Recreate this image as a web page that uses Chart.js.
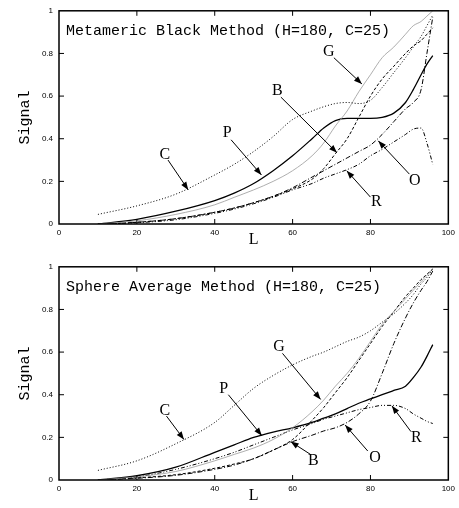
<!DOCTYPE html>
<html>
<head>
<meta charset="utf-8">
<script src="https://cdn.jsdelivr.net/npm/chart.js@4.4.0/dist/chart.umd.min.js"></script>
<style>
body { margin: 0; background: #fff; overflow: hidden; }
canvas { display: block; }
#arriba { margin-bottom: 2px; }
</style>
</head>
<body>
<canvas id="arriba" width="459" height="254"></canvas>
<canvas id="abajo" width="459" height="252"></canvas>
<script>
// Valores de L comunes a todas las curvas
const valoresL = [10, 20, 30, 40, 45, 50, 55, 60, 65, 68, 71, 74, 77, 80, 83, 86, 89, 91, 93, 94.5, 96];

// Metameric Black Method
const negroC = [0.045, 0.085, 0.14, 0.23, 0.28, 0.34, 0.41, 0.49, 0.53, 0.55, 0.565, 0.57, 0.565, 0.58, 0.64, 0.71, 0.78, 0.83, 0.88, 0.93, 0.98];
const negroP = [0, 0.022, 0.06, 0.11, 0.145, 0.19, 0.25, 0.32, 0.4, 0.45, 0.485, 0.495, 0.495, 0.495, 0.5, 0.52, 0.57, 0.63, 0.7, 0.75, 0.79];
const negroG = [0, 0.015, 0.045, 0.09, 0.125, 0.16, 0.2, 0.25, 0.32, 0.38, 0.46, 0.53, 0.62, 0.7, 0.78, 0.83, 0.89, 0.93, 0.95, 0.975, 1.0];
const negroB = [0, 0.008, 0.025, 0.055, 0.075, 0.1, 0.13, 0.165, 0.21, 0.26, 0.33, 0.4, 0.5, 0.6, 0.68, 0.74, 0.8, 0.835, 0.86, 0.89, 0.92];
const negroO = [0, 0.008, 0.025, 0.055, 0.075, 0.1, 0.13, 0.17, 0.22, 0.25, 0.28, 0.31, 0.34, 0.37, 0.42, 0.48, 0.54, 0.57, 0.63, 0.8, 0.97];
const negroR = [0, 0.006, 0.02, 0.05, 0.07, 0.095, 0.125, 0.16, 0.19, 0.215, 0.235, 0.255, 0.28, 0.32, 0.35, 0.385, 0.42, 0.445, 0.45, 0.38, 0.28];

// Sphere Average Method
const esferaC = [0.045, 0.09, 0.17, 0.27, 0.35, 0.43, 0.49, 0.54, 0.58, 0.6, 0.625, 0.65, 0.67, 0.7, 0.74, 0.78, 0.83, 0.87, 0.92, 0.95, 0.99];
const esferaP = [0, 0.02, 0.06, 0.13, 0.165, 0.2, 0.225, 0.245, 0.27, 0.29, 0.31, 0.335, 0.36, 0.38, 0.4, 0.42, 0.44, 0.48, 0.53, 0.58, 0.635];
const esferaG = [0, 0.015, 0.04, 0.09, 0.12, 0.15, 0.19, 0.245, 0.32, 0.375, 0.44, 0.5, 0.57, 0.65, 0.73, 0.79, 0.85, 0.89, 0.93, 0.96, 0.99];
const esferaB = [0, 0.01, 0.025, 0.055, 0.075, 0.1, 0.14, 0.19, 0.28, 0.34, 0.41, 0.48, 0.56, 0.64, 0.72, 0.79, 0.86, 0.9, 0.94, 0.965, 0.99];
const esferaO = [0, 0.008, 0.022, 0.05, 0.07, 0.1, 0.14, 0.18, 0.21, 0.23, 0.245, 0.27, 0.31, 0.37, 0.5, 0.64, 0.76, 0.83, 0.89, 0.93, 0.98];
const esferaR = [0, 0.015, 0.05, 0.1, 0.13, 0.165, 0.2, 0.235, 0.265, 0.285, 0.3, 0.315, 0.33, 0.34, 0.35, 0.35, 0.335, 0.31, 0.29, 0.275, 0.265];

// Etiquetas con flecha: letra, posición del texto, inicio y punta de la flecha (en L, Signal)
const negroLetras = ['C', 'P', 'B', 'G', 'O', 'R'];
const negroTexto = [[27.2, 0.326], [43.2, 0.426], [56.1, 0.626], [69.3, 0.806], [91.4, 0.203], [81.5, 0.103]];
const negroDesde = [[28, 0.30], [44.2, 0.395], [57, 0.595], [70.6, 0.78], [90, 0.234], [80, 0.126]];
const negroPunta = [[33.2, 0.16], [52, 0.23], [71.4, 0.334], [77.8, 0.657], [82, 0.39], [73.9, 0.25]];

const esferaLetras = ['C', 'P', 'G', 'B', 'O', 'R'];
const esferaTexto = [[27.2, 0.326], [42.3, 0.428], [56.5, 0.624], [65.3, 0.09], [81.2, 0.105], [91.8, 0.2]];
const esferaDesde = [[27.6, 0.30], [43.5, 0.40], [57.4, 0.594], [64.6, 0.12], [79.3, 0.136], [90.4, 0.227]];
const esferaPunta = [[32.1, 0.19], [52.1, 0.208], [67.2, 0.378], [59.5, 0.18], [73.5, 0.258], [85.5, 0.348]];

const ticksX = [0, 20, 40, 60, 80, 100];
const ticksY = [0, 0.2, 0.4, 0.6, 0.8, 1];

// Plugin: marco, marcas hacia dentro, título y flechas
const marcas = {
    id: 'marcas',
    afterDraw(chart, args, opts) {
        const ctx = chart.ctx;
        const a = chart.chartArea;
        const sx = chart.scales.x;
        const sy = chart.scales.y;
        ctx.save();
        ctx.strokeStyle = '#000';
        ctx.lineWidth = 1;
        ctx.beginPath();
        ticksX.slice(1, -1).forEach(v => {
            const px = sx.getPixelForValue(v);
            ctx.moveTo(px, a.bottom); ctx.lineTo(px, a.bottom - 5);
            ctx.moveTo(px, a.top); ctx.lineTo(px, a.top + 5);
        });
        ticksY.slice(1, -1).forEach(v => {
            const py = sy.getPixelForValue(v);
            ctx.moveTo(a.left, py); ctx.lineTo(a.left + 5, py);
            ctx.moveTo(a.right, py); ctx.lineTo(a.right - 5, py);
        });
        ctx.stroke();
        ctx.lineWidth = 1.5;
        ctx.strokeRect(a.left, a.top, a.right - a.left, a.bottom - a.top);

        ctx.fillStyle = '#000';
        ctx.font = '15px "Liberation Mono"';
        ctx.textBaseline = 'middle';
        ctx.textAlign = 'left';
        ctx.fillText(opts.titulo, a.left + 7, a.top + 20);

        // letras con serifa, como la Courier del original
        ctx.font = '16px "Liberation Serif"';
        ctx.textAlign = 'center';
        ctx.lineWidth = 1;
        opts.letras.forEach((letra, i) => {
            ctx.fillText(letra, sx.getPixelForValue(opts.texto[i][0]), sy.getPixelForValue(opts.texto[i][1]));
            const x1 = sx.getPixelForValue(opts.desde[i][0]);
            const y1 = sy.getPixelForValue(opts.desde[i][1]);
            const x2 = sx.getPixelForValue(opts.punta[i][0]);
            const y2 = sy.getPixelForValue(opts.punta[i][1]);
            const ang = Math.atan2(y2 - y1, x2 - x1);
            ctx.beginPath();
            ctx.moveTo(x1, y1);
            ctx.lineTo(x2, y2);
            ctx.stroke();
            ctx.beginPath();
            ctx.moveTo(x2, y2);
            ctx.lineTo(x2 - 8 * Math.cos(ang) + 3 * Math.sin(ang), y2 - 8 * Math.sin(ang) - 3 * Math.cos(ang));
            ctx.lineTo(x2 - 8 * Math.cos(ang) - 3 * Math.sin(ang), y2 - 8 * Math.sin(ang) + 3 * Math.cos(ang));
            ctx.closePath();
            ctx.fill();
        });
        ctx.restore();
    }
};

function serie(valores, color, ancho, guiones) {
    return {
        data: valoresL.map((l, i) => ({ x: l, y: valores[i] })),
        borderColor: color,
        borderWidth: ancho,
        borderDash: guiones,
        pointRadius: 0,
        fill: false,
        cubicInterpolationMode: 'monotone'
    };
}

function dibujarPanel(id, titulo, c, p, g, b, o, r, letras, texto, desde, punta, altoX, margenL) {
    const ctx = document.getElementById(id).getContext('2d');
    return new Chart(ctx, {
        type: 'line',
        data: {
            datasets: [
                serie(c, '#000', 1, [1, 2]),
                serie(g, '#999', 0.8, []),
                serie(b, '#000', 1, [3, 2]),
                serie(o, '#000', 1, [5, 2, 1, 2]),
                serie(r, '#000', 1, [4, 2, 1, 2, 1, 2]),
                serie(p, '#000', 1.3, [])
            ]
        },
        options: {
            responsive: false,
            animation: false,
            layout: { padding: { left: 0, right: 8, top: 7, bottom: 0 } },
            plugins: {
                legend: { display: false },
                tooltip: { enabled: false },
                marcas: { titulo: titulo, letras: letras, texto: texto, desde: desde, punta: punta }
            },
            scales: {
                x: {
                    type: 'linear', min: 0, max: 100,
                    grid: { display: false, drawTicks: false },
                    border: { display: false },
                    ticks: { stepSize: 20, color: '#000', padding: 4, maxRotation: 0, font: { family: 'Liberation Sans', size: 8 } },
                    title: { display: true, text: 'L', color: '#000', font: { family: 'Liberation Serif', size: 16 }, padding: { top: 0, bottom: margenL } },
                    afterFit(s) { s.height = altoX; }
                },
                y: {
                    min: 0, max: 1,
                    grid: { display: false, drawTicks: false },
                    border: { display: false },
                    ticks: {
                        stepSize: 0.2, color: '#000', padding: 6,
                        font: { family: 'Liberation Sans', size: 8 },
                        callback: v => Number(v.toFixed(1)).toString()
                    },
                    title: { display: true, text: 'Signal', color: '#000', font: { family: 'Liberation Mono', size: 15 }, padding: { top: 16, bottom: 0 } },
                    afterFit(s) { s.width = 59; }
                }
            }
        },
        plugins: [marcas]
    });
}

dibujarPanel('arriba', 'Metameric Black Method (H=180, C=25)', negroC, negroP, negroG, negroB, negroO, negroR,
    negroLetras, negroTexto, negroDesde, negroPunta, 30, 5);
dibujarPanel('abajo', 'Sphere Average Method (H=180, C=25)', esferaC, esferaP, esferaG, esferaB, esferaO, esferaR,
    esferaLetras, esferaTexto, esferaDesde, esferaPunta, 28, 3);
</script>
</body>
</html>
